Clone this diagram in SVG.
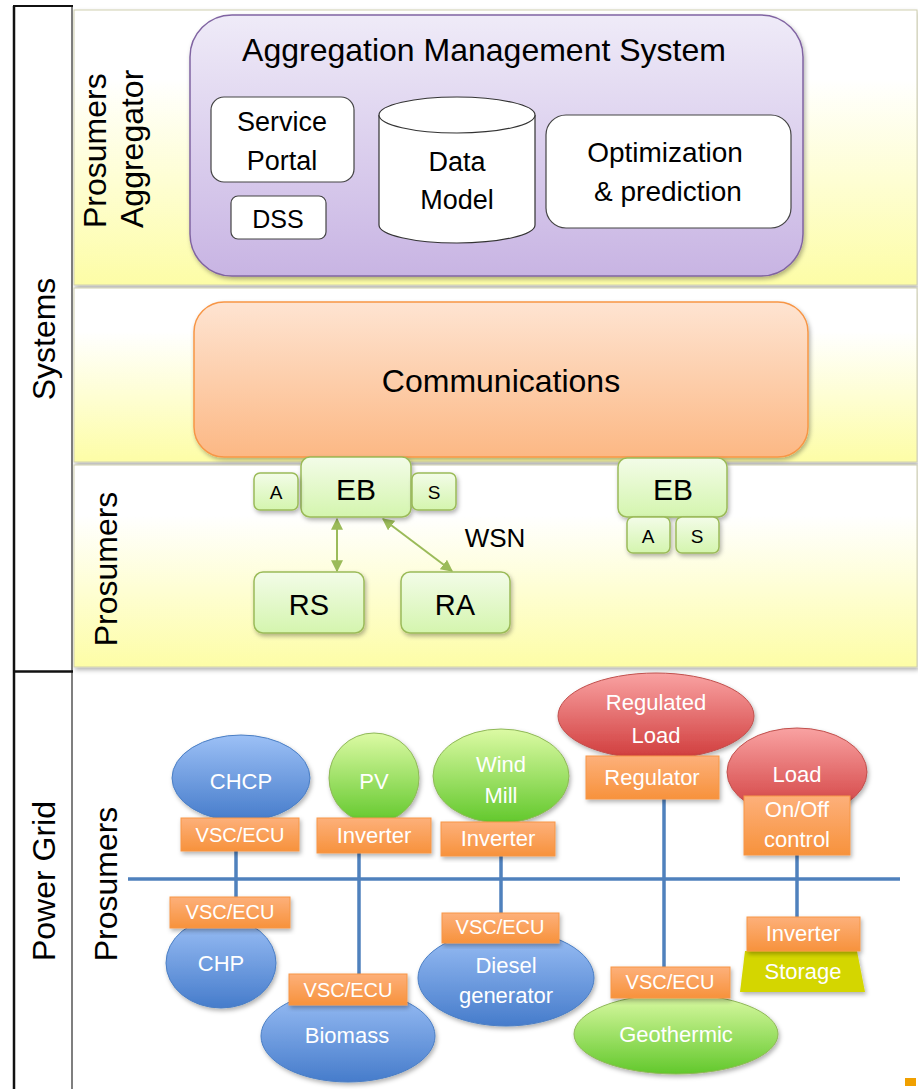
<svg xmlns="http://www.w3.org/2000/svg" width="918" height="1089" viewBox="0 0 918 1089">
<defs>
<linearGradient id="band" x1="0" y1="0" x2="0" y2="1">
<stop offset="0" stop-color="#ffffff"/><stop offset="0.25" stop-color="#ffffff"/><stop offset="1" stop-color="#fdfda6"/>
</linearGradient>
<linearGradient id="purple" x1="0" y1="0" x2="0" y2="1">
<stop offset="0" stop-color="#efebf8"/><stop offset="1" stop-color="#c8b4e3"/>
</linearGradient>
<linearGradient id="peach" x1="0" y1="0" x2="0" y2="1">
<stop offset="0" stop-color="#fee4d2"/><stop offset="1" stop-color="#fcb884"/>
</linearGradient>
<linearGradient id="lgreen" x1="0" y1="0" x2="0" y2="1">
<stop offset="0" stop-color="#f3fce8"/><stop offset="1" stop-color="#d4f5ae"/>
</linearGradient>
<linearGradient id="blue" x1="0" y1="0" x2="0" y2="1">
<stop offset="0" stop-color="#9cc0f6"/><stop offset="1" stop-color="#467ccb"/>
</linearGradient>
<linearGradient id="green" x1="0" y1="0" x2="0" y2="1">
<stop offset="0" stop-color="#dcfaa4"/><stop offset="1" stop-color="#62c82c"/>
</linearGradient>
<linearGradient id="red" x1="0" y1="0" x2="0" y2="1">
<stop offset="0" stop-color="#f9a2a2"/><stop offset="1" stop-color="#d03c3c"/>
</linearGradient>
<linearGradient id="orange" x1="0" y1="0" x2="0" y2="1">
<stop offset="0" stop-color="#fdb07a"/><stop offset="1" stop-color="#f7923c"/>
</linearGradient>
<filter id="sh" x="-10%" y="-10%" width="125%" height="130%">
<feDropShadow dx="1.5" dy="2.5" stdDeviation="2" flood-color="#000" flood-opacity="0.3"/>
</filter>
<marker id="ah" viewBox="0 0 10 10" refX="9" refY="5" markerWidth="6" markerHeight="6" orient="auto-start-reverse">
<path d="M0,0 L10,5 L0,10 z" fill="#9bbb59"/>
</marker>
<style>
text{font-family:"Liberation Sans",Arial,sans-serif;}
.band{fill:url(#band);stroke:#cfcfb0;stroke-width:1;filter:url(#sh);}
.wbox{fill:#fff;stroke:#444;stroke-width:1.2;}
.gbox{fill:url(#lgreen);stroke:#9bbb59;stroke-width:1.5;filter:url(#sh);}
.obox{fill:url(#orange);stroke:#f79646;stroke-width:1;filter:url(#sh);}
.blue{fill:url(#blue);stroke:#4a7ec4;stroke-width:1;filter:url(#sh);}
.green{fill:url(#green);stroke:#8fb858;stroke-width:1;filter:url(#sh);}
.red{fill:url(#red);stroke:#c0504d;stroke-width:1;filter:url(#sh);}
.bus{stroke:#4f81bd;stroke-width:3.5;fill:none;}
.lbl{fill:#fff;font-size:22px;text-anchor:middle;}
.vsc{fill:#fff;font-size:20px;text-anchor:middle;}
.blk{fill:#000;text-anchor:middle;}
.side{fill:#000;font-size:32px;}
.conn{stroke:#9bbb59;stroke-width:2;fill:none;}
</style>
</defs>

<g id="bands">
<rect class="band" x="74" y="10" width="843" height="275"/>
<rect class="band" x="74" y="288" width="843" height="174"/>
<rect class="band" x="74" y="465" width="843" height="202"/>
</g>

<g id="left-column">
<line x1="72" y1="6" x2="72" y2="1089" stroke="#555" stroke-width="1.5"/>
<line x1="14" y1="6" x2="14" y2="1089" stroke="#111" stroke-width="2.5"/>
<line x1="13" y1="6" x2="73" y2="6" stroke="#111" stroke-width="2"/>
<line x1="13" y1="671.5" x2="73" y2="671.5" stroke="#111" stroke-width="2.5"/>
<text class="side" font-size="31" text-anchor="middle" transform="translate(55,339) rotate(-90)">Systems</text>
<text class="side" text-anchor="middle" transform="translate(55,881) rotate(-90)">Power Grid</text>
</g>

<g id="band-labels">
<text class="side" transform="translate(106,228) rotate(-90)">Prosumers</text>
<text class="side" transform="translate(143,228) rotate(-90)">Aggregator</text>
<text class="side" text-anchor="middle" transform="translate(117,569) rotate(-90)">Prosumers</text>
<text class="side" text-anchor="middle" transform="translate(117,884) rotate(-90)">Prosumers</text>
</g>

<g id="ams">
<rect x="190" y="15" width="613" height="261" rx="42" fill="url(#purple)" stroke="#8064a2" stroke-width="1.5" filter="url(#sh)"/>
<text class="blk" x="484" y="61" font-size="32">Aggregation Management System</text>
</g>
<g id="service-portal">
<rect class="wbox" x="211" y="97" width="143" height="85" rx="13"/>
<text class="blk" x="282" y="131" font-size="27">Service</text>
<text class="blk" x="282" y="170" font-size="27">Portal</text>
</g>
<g id="dss">
<rect class="wbox" x="231" y="196" width="95" height="43" rx="7"/>
<text class="blk" x="278" y="228" font-size="25">DSS</text>
</g>
<g id="data-model">
<path d="M379,115 L379,225 A78,18 0 0 0 535,225 L535,115" fill="#fff" stroke="#333" stroke-width="1.2"/>
<ellipse cx="457" cy="115" rx="78" ry="18" fill="#fff" stroke="#333" stroke-width="1.2"/>
<text class="blk" x="457" y="171" font-size="27">Data</text>
<text class="blk" x="457" y="209" font-size="27">Model</text>
</g>
<g id="optimization">
<rect class="wbox" x="546" y="115" width="245" height="113" rx="20"/>
<text class="blk" x="665" y="162" font-size="28">Optimization</text>
<text class="blk" x="668" y="201" font-size="28">&amp; prediction</text>
</g>

<g id="communications">
<rect x="194" y="302" width="614" height="155" rx="30" fill="url(#peach)" stroke="#f79646" stroke-width="1.5" filter="url(#sh)"/>
<text class="blk" x="501" y="392" font-size="32">Communications</text>
</g>

<g id="connectors">
<line class="conn" x1="337" y1="519" x2="337" y2="571" marker-start="url(#ah)" marker-end="url(#ah)"/>
<line class="conn" x1="383" y1="519" x2="452" y2="571" marker-start="url(#ah)" marker-end="url(#ah)"/>
<path class="bus" d="M128,879 H900"/>
<path class="bus" d="M236,851 V898"/>
<path class="bus" d="M359,853 V974"/>
<path class="bus" d="M501,856 V913"/>
<path class="bus" d="M664,799 V967"/>
<path class="bus" d="M797,855 V917"/>
</g>

<g id="eb1">
<rect class="gbox" x="301" y="457" width="110" height="60" rx="9"/>
<text class="blk" x="356" y="500" font-size="30">EB</text>
</g>
<g id="eb1-a">
<rect class="gbox" x="254" y="473" width="44" height="37" rx="6"/>
<text class="blk" x="276" y="499" font-size="19">A</text>
</g>
<g id="eb1-s">
<rect class="gbox" x="412" y="473" width="44" height="37" rx="6"/>
<text class="blk" x="434" y="499" font-size="19">S</text>
</g>
<g id="rs">
<rect class="gbox" x="254" y="572" width="110" height="61" rx="9"/>
<text class="blk" x="309" y="615" font-size="29">RS</text>
</g>
<g id="ra">
<rect class="gbox" x="401" y="572" width="109" height="61" rx="9"/>
<text class="blk" x="455" y="615" font-size="29">RA</text>
</g>
<g id="wsn">
<text class="blk" x="495" y="547" font-size="26">WSN</text>
</g>
<g id="eb2">
<rect class="gbox" x="618" y="458" width="109" height="59" rx="9"/>
<text class="blk" x="673" y="500" font-size="30">EB</text>
</g>
<g id="eb2-a">
<rect class="gbox" x="627" y="517" width="43" height="36" rx="6"/>
<text class="blk" x="648" y="543" font-size="19">A</text>
</g>
<g id="eb2-s">
<rect class="gbox" x="676" y="517" width="43" height="36" rx="6"/>
<text class="blk" x="697" y="543" font-size="19">S</text>
</g>

<g id="chcp">
<ellipse class="blue" cx="241" cy="778" rx="69" ry="43"/>
<text class="lbl" x="241" y="789" font-size="23">CHCP</text>
<rect class="obox" x="181" y="818" width="118" height="33"/>
<text class="vsc" x="240" y="842">VSC/ECU</text>
</g>
<g id="chp">
<ellipse class="blue" cx="221" cy="963" rx="55" ry="45"/>
<rect class="obox" x="170" y="897" width="120" height="31"/>
<text class="vsc" x="230" y="919">VSC/ECU</text>
<text class="lbl" x="221" y="971" font-size="23">CHP</text>
</g>
<g id="pv">
<circle class="green" cx="374" cy="778" r="45"/>
<text class="lbl" x="374" y="789" font-size="23">PV</text>
<rect class="obox" x="317" y="818" width="114" height="35"/>
<text class="lbl" x="374" y="843">Inverter</text>
</g>
<g id="biomass">
<ellipse class="blue" cx="348" cy="1036" rx="87" ry="46"/>
<rect class="obox" x="289" y="974" width="118" height="31"/>
<text class="vsc" x="348" y="997">VSC/ECU</text>
<text class="lbl" x="347" y="1043">Biomass</text>
</g>
<g id="wind-mill">
<ellipse class="green" cx="501" cy="776" rx="68" ry="47"/>
<text class="lbl" x="501" y="772">Wind</text>
<text class="lbl" x="501" y="803">Mill</text>
<rect class="obox" x="441" y="822" width="114" height="34"/>
<text class="lbl" x="498" y="846">Inverter</text>
</g>
<g id="diesel">
<ellipse class="blue" cx="506" cy="978" rx="88" ry="48"/>
<rect class="obox" x="442" y="913" width="117" height="30"/>
<text class="vsc" x="500" y="934">VSC/ECU</text>
<text class="lbl" x="506" y="973">Diesel</text>
<text class="lbl" x="506" y="1003">generator</text>
</g>
<g id="regulated-load">
<ellipse class="red" cx="656" cy="716" rx="98" ry="43"/>
<text class="lbl" x="656" y="710">Regulated</text>
<text class="lbl" x="656" y="743">Load</text>
<rect class="obox" x="586" y="756" width="133" height="43"/>
<text class="lbl" x="652" y="785">Regulator</text>
</g>
<g id="geothermic">
<ellipse class="green" cx="676" cy="1034" rx="102" ry="40"/>
<rect class="obox" x="611" y="967" width="119" height="31"/>
<text class="vsc" x="670" y="989">VSC/ECU</text>
<text class="lbl" x="676" y="1042">Geothermic</text>
</g>
<g id="load">
<ellipse class="red" cx="797" cy="772" rx="70" ry="44"/>
<text class="lbl" x="797" y="782">Load</text>
<rect class="obox" x="744" y="796" width="106" height="59"/>
<text class="lbl" x="797" y="817">On/Off</text>
<text class="lbl" x="797" y="847">control</text>
</g>
<g id="storage">
<path d="M745,951 L857,951 L865,992 L740,992 Z" fill="#d4d600" filter="url(#sh)"/>
<rect class="obox" x="747" y="917" width="113" height="34"/>
<text class="lbl" x="803" y="941">Inverter</text>
<text class="lbl" x="803" y="979" fill="#fbfbd8">Storage</text>
</g>
<g id="corner-mark">
<rect x="905" y="1078" width="11" height="8" fill="#f0a000"/>
</g>
</svg>
